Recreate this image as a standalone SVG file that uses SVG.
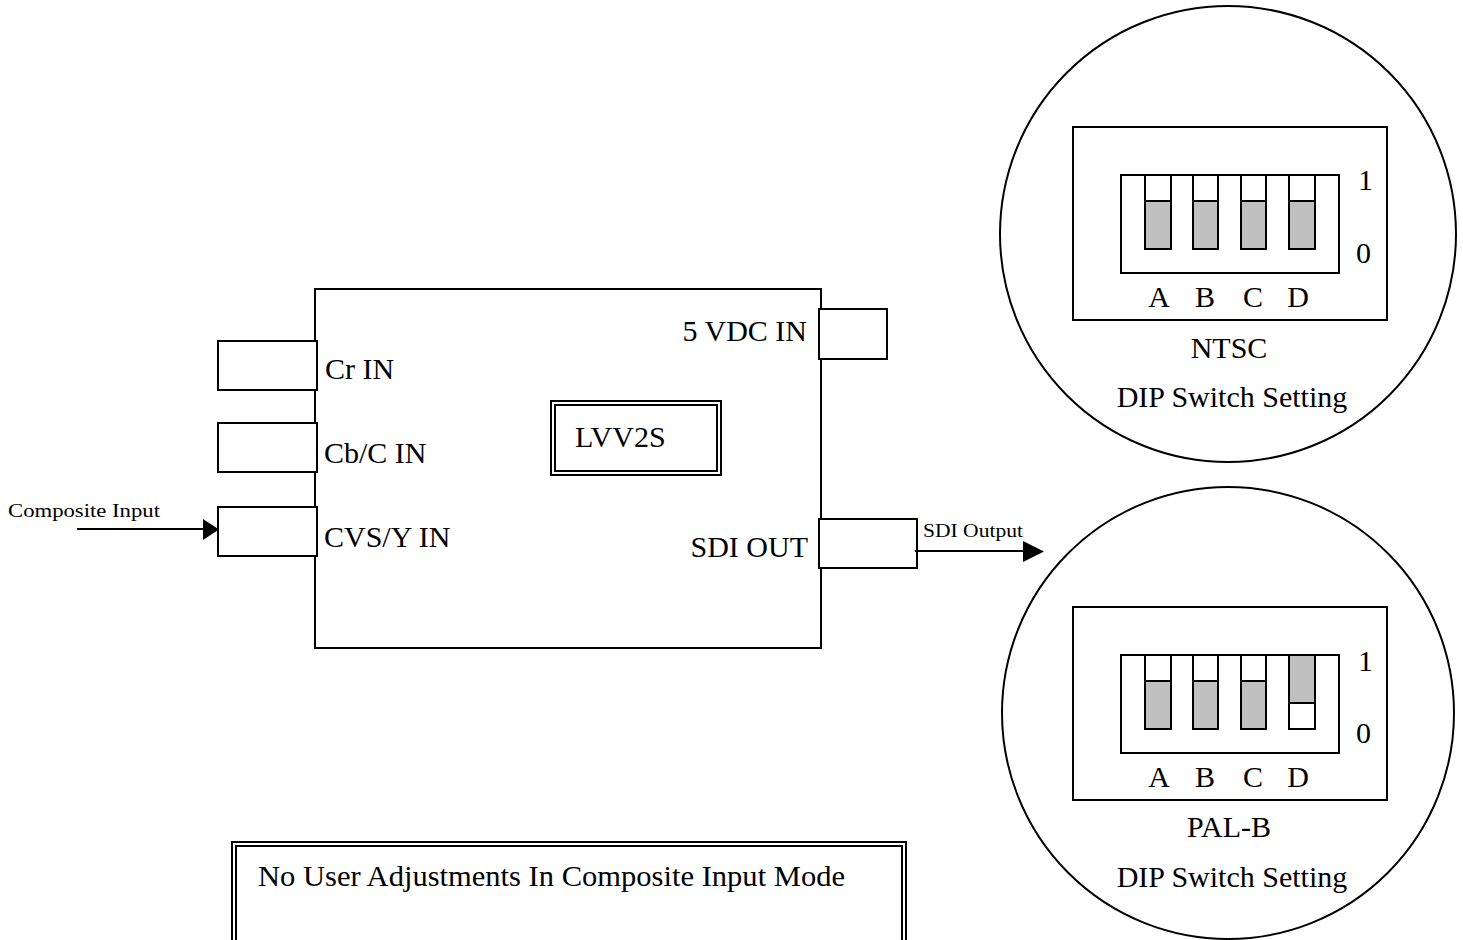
<svg xmlns="http://www.w3.org/2000/svg" width="1463" height="940" viewBox="0 0 1463 940">
<defs>
<style>
.ln{fill:none;stroke:#000;stroke-width:2}
.bx{fill:#fff;stroke:#000;stroke-width:2}
.t{font-family:"Liberation Serif","Times New Roman",serif;font-size:30px;fill:#000}
.s{font-family:"Liberation Serif","Times New Roman",serif;font-size:19px;fill:#000}
.g{fill:#c0c0c0;stroke:#000;stroke-width:2}
.w{fill:#fff;stroke:#000;stroke-width:2}
</style>
<marker id="ah" markerWidth="10" markerHeight="10" refX="10" refY="5" orient="auto" markerUnits="userSpaceOnUse" viewBox="0 0 10 10">
<path d="M0,0 L10,5 L0,10 Z" fill="#000"/>
</marker>
</defs>
<rect width="1463" height="940" fill="#fff"/>

<g id="main-unit">
<rect class="bx" x="315" y="289" width="506" height="359"/>
</g>

<g id="cr-in">
<rect class="bx" x="218" y="341" width="99" height="49"/>
<text class="t" x="325" y="379">Cr IN</text>
</g>
<g id="cb-in">
<rect class="bx" x="218" y="423" width="99" height="49"/>
<text class="t" x="324" y="463">Cb/C IN</text>
</g>
<g id="cvs-in">
<rect class="bx" x="218" y="507" width="99" height="49"/>
<text class="t" x="324" y="547">CVS/Y IN</text>
</g>
<g id="vdc-in">
<rect class="bx" x="819" y="309" width="68" height="50"/>
<text class="t" x="807" y="341" text-anchor="end">5 VDC IN</text>
</g>
<g id="sdi-out">
<rect class="bx" x="819" y="519" width="98" height="49"/>
<text class="t" x="808" y="557" text-anchor="end">SDI OUT</text>
</g>
<g id="lvv2s">
<rect class="ln" x="551" y="401" width="170" height="74"/>
<rect class="ln" x="555" y="405" width="162" height="66"/>
<text class="t" x="575" y="447">LVV2S</text>
</g>

<g id="connectors">
<line x1="77" y1="529" x2="219" y2="529" stroke="#000" stroke-width="2"/>
<path d="M203,519 L219,529.5 L203,540 Z" fill="#000"/>
<text class="s" x="8" y="517" textLength="152" lengthAdjust="spacingAndGlyphs">Composite Input</text>
<line x1="915" y1="551" x2="1030" y2="551" stroke="#000" stroke-width="2"/>
<path d="M1023,541 L1044,551.5 L1023,562 Z" fill="#000"/>
<text class="s" x="923" y="537" textLength="100" lengthAdjust="spacingAndGlyphs">SDI Output</text>
</g>

<g id="ntsc-dip">
<circle class="ln" cx="1228" cy="234" r="228"/>
<rect class="ln" x="1073" y="127" width="314" height="193"/>
<rect class="ln" x="1121" y="175" width="218" height="98"/>
<rect class="w" x="1145" y="175" width="26" height="74"/>
<rect class="g" x="1145" y="201" width="26" height="48"/>
<rect class="w" x="1193" y="175" width="25" height="74"/>
<rect class="g" x="1193" y="201" width="25" height="48"/>
<rect class="w" x="1241" y="175" width="25" height="74"/>
<rect class="g" x="1241" y="201" width="25" height="48"/>
<rect class="w" x="1289" y="175" width="26" height="74"/>
<rect class="g" x="1289" y="201" width="26" height="48"/>
<text class="t" x="1358" y="190">1</text>
<text class="t" x="1356" y="263">0</text>
<text class="t" x="1159" y="307" text-anchor="middle">A</text>
<text class="t" x="1205" y="307" text-anchor="middle">B</text>
<text class="t" x="1253" y="307" text-anchor="middle">C</text>
<text class="t" x="1298" y="307" text-anchor="middle">D</text>
<text class="t" x="1229" y="358" text-anchor="middle">NTSC</text>
<text class="t" x="1232" y="407" text-anchor="middle">DIP Switch Setting</text>
</g>

<g id="pal-dip">
<circle class="ln" cx="1228" cy="713" r="226"/>
<rect class="ln" x="1073" y="607" width="314" height="193"/>
<rect class="ln" x="1121" y="655" width="218" height="98"/>
<rect class="w" x="1145" y="655" width="26" height="74"/>
<rect class="g" x="1145" y="681" width="26" height="48"/>
<rect class="w" x="1193" y="655" width="25" height="74"/>
<rect class="g" x="1193" y="681" width="25" height="48"/>
<rect class="w" x="1241" y="655" width="25" height="74"/>
<rect class="g" x="1241" y="681" width="25" height="48"/>
<rect class="w" x="1289" y="655" width="26" height="74"/>
<rect class="g" x="1289" y="655" width="26" height="48"/>
<text class="t" x="1358" y="671">1</text>
<text class="t" x="1356" y="743">0</text>
<text class="t" x="1159" y="787" text-anchor="middle">A</text>
<text class="t" x="1205" y="787" text-anchor="middle">B</text>
<text class="t" x="1253" y="787" text-anchor="middle">C</text>
<text class="t" x="1298" y="787" text-anchor="middle">D</text>
<text class="t" x="1229" y="837" text-anchor="middle">PAL-B</text>
<text class="t" x="1232" y="887" text-anchor="middle">DIP Switch Setting</text>
</g>

<g id="note">
<rect class="ln" x="232" y="842" width="674" height="120"/>
<rect class="ln" x="236" y="846" width="666" height="112"/>
<text class="t" x="258" y="886" textLength="587" lengthAdjust="spacingAndGlyphs">No User Adjustments In Composite Input Mode</text>
</g>
</svg>
